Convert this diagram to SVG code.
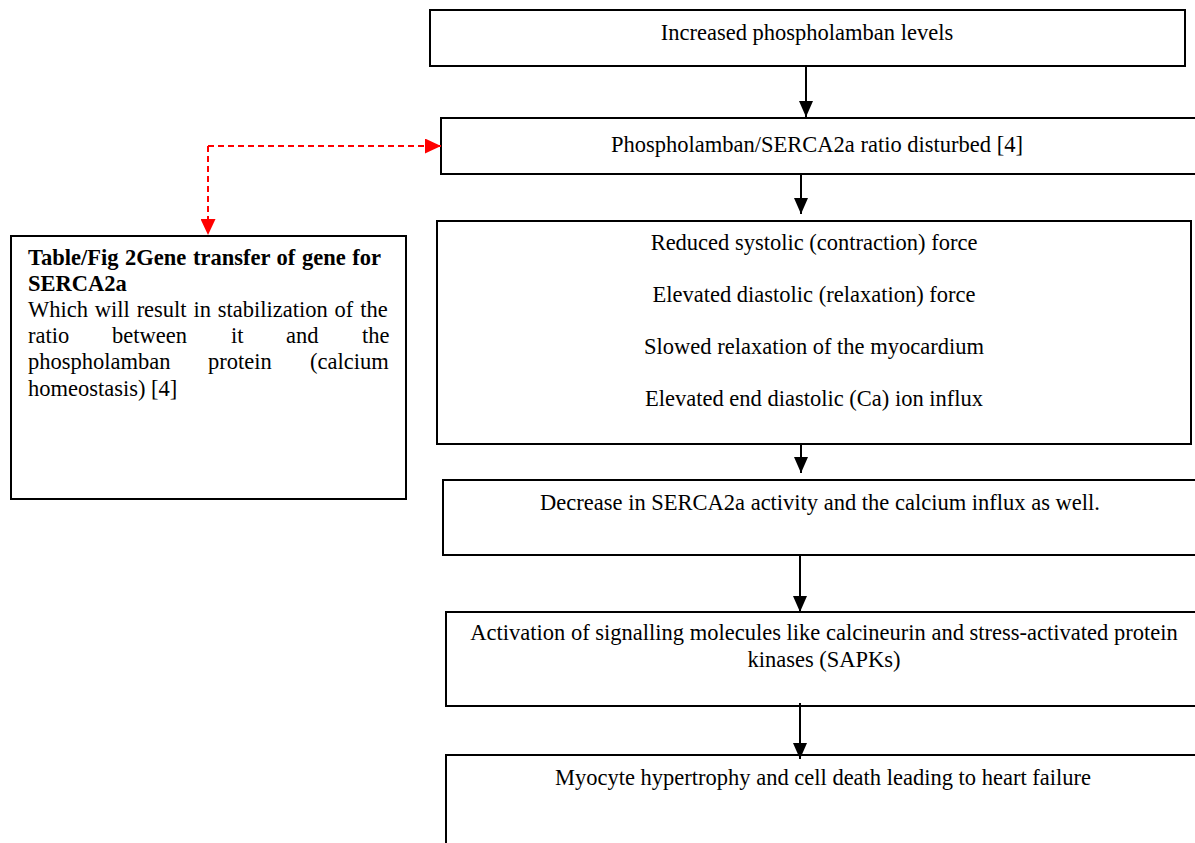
<svg xmlns="http://www.w3.org/2000/svg" width="1195" height="843" viewBox="0 0 1195 843">
<style>
.box{fill:#fff;stroke:#000;stroke-width:2}
.t{font-family:"Liberation Serif","Times New Roman",serif;font-size:22.5px;fill:#000}
.c{text-anchor:middle}
.b{font-weight:bold}
.con{stroke:#000;stroke-width:2;fill:none}
.red{stroke:#ff0000;stroke-width:2;fill:none;stroke-dasharray:6 4}
</style>
<defs>
<marker id="ah" markerUnits="userSpaceOnUse" markerWidth="16" markerHeight="14" refX="16" refY="7" orient="auto" viewBox="0 0 16 14">
<path d="M0,0 L16,7 L0,14 z" fill="#000"/>
</marker>
<marker id="ahr" markerUnits="userSpaceOnUse" markerWidth="16" markerHeight="15" refX="16" refY="7.5" orient="auto" viewBox="0 0 16 15">
<path d="M0,0 L16,7.5 L0,15 z" fill="#ff0000"/>
</marker>
</defs>
<rect width="1195" height="843" fill="#fff"/>
<g id="n1">
<rect class="box" x="430" y="10" width="755" height="56"/>
<text class="t c" x="807" y="40">Increased phospholamban levels</text>
</g>
<g id="n2">
<rect class="box" x="441" y="118" width="756" height="56"/>
<text class="t c" x="817" y="152">Phospholamban/SERCA2a ratio disturbed [4]</text>
</g>
<g id="n3">
<rect class="box" x="437" y="221" width="754" height="223"/>
<text class="t c" x="814" y="250">Reduced systolic (contraction) force</text>
<text class="t c" x="814" y="302">Elevated diastolic (relaxation) force</text>
<text class="t c" x="814" y="354">Slowed relaxation of the myocardium</text>
<text class="t c" x="814" y="406">Elevated end diastolic (Ca) ion influx</text>
</g>
<g id="n4">
<rect class="box" x="443" y="480" width="756" height="75"/>
<text class="t c" x="820" y="510">Decrease in SERCA2a activity and the calcium influx as well.</text>
</g>
<g id="n5">
<rect class="box" x="446" y="612" width="756" height="94"/>
<text class="t c" x="824" y="640">Activation of signalling molecules like calcineurin and stress-activated protein</text>
<text class="t c" x="824" y="667">kinases (SAPKs)</text>
</g>
<g id="n6">
<rect class="box" x="446" y="755" width="756" height="100"/>
<text class="t c" x="823" y="785">Myocyte hypertrophy and cell death leading to heart failure</text>
</g>
<g id="n7">
<rect class="box" x="11" y="236" width="395" height="263"/>
<text class="t b" x="28" y="265" word-spacing="1">Table/Fig 2Gene transfer of gene for</text>
<text class="t b" x="28" y="291">SERCA2a</text>
<text class="t" x="28" y="317" word-spacing="1.2">Which will result in stabilization of the</text>
<text class="t" y="343"><tspan x="28">ratio</tspan><tspan x="112">between</tspan><tspan x="231">it</tspan><tspan x="286">and</tspan><tspan x="362">the</tspan></text>
<text class="t" y="369"><tspan x="28">phospholamban</tspan><tspan x="208">protein</tspan><tspan x="310">(calcium</tspan></text>
<text class="t" x="28" y="396">homeostasis) [4]</text>
</g>
<g id="connectors">
<path class="con" d="M806,66 L806,117" marker-end="url(#ah)"/>
<path class="con" d="M801,174 L801,214" marker-end="url(#ah)"/>
<path class="con" d="M801,445 L801,473" marker-end="url(#ah)"/>
<path class="con" d="M800,556 L800,612" marker-end="url(#ah)"/>
<path class="con" d="M800,703 L800,759" marker-end="url(#ah)"/>
<path class="red" d="M208,146 L441,146" marker-end="url(#ahr)"/>
<path class="red" d="M208,146 L208,235" marker-end="url(#ahr)"/>
</g>
</svg>
